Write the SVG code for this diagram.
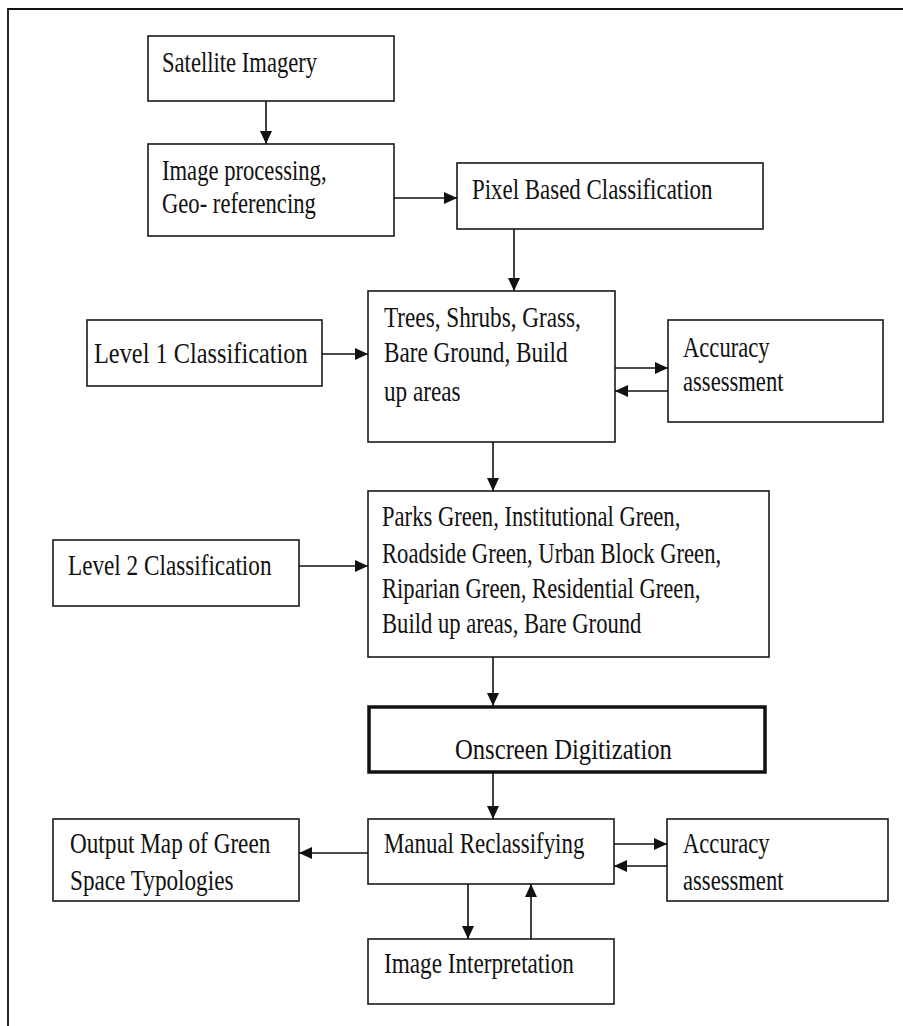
<svg xmlns="http://www.w3.org/2000/svg" width="903" height="1026" viewBox="0 0 903 1026">
<style>
.box{fill:#fff;stroke:#1a1a1a;stroke-width:1.6}
.thick{fill:#fff;stroke:#111;stroke-width:3.5}
.t{font-family:"Liberation Serif","Times New Roman",serif;font-size:29px;fill:#111}
.c{stroke:#111;stroke-width:1.6;fill:none;marker-end:url(#ah)}
.frame{stroke:#111;stroke-width:1.8;fill:none}
</style>
<defs>
<marker id="ah" markerUnits="userSpaceOnUse" markerWidth="14" markerHeight="12" refX="13" refY="6" orient="auto">
<path d="M0,0 L13,6 L0,12 Z" fill="#111"/>
</marker>
</defs>
<rect width="903" height="1026" fill="#fff"/>
<path class="frame" d="M8,1026 V9 H903"/>

<g id="satellite">
<rect class="box" x="148" y="36" width="246" height="65"/>
<text class="t" transform="translate(162,72) scale(0.78,1)">Satellite Imagery</text>
</g>
<g id="image-processing">
<rect class="box" x="148" y="144" width="246" height="92"/>
<text class="t" transform="translate(162,180) scale(0.78,1)"><tspan x="0">Image processing,</tspan><tspan x="0" dy="33">Geo- referencing</tspan></text>
</g>
<g id="pixel">
<rect class="box" x="457" y="163" width="306" height="66"/>
<text class="t" transform="translate(472,199) scale(0.79,1)">Pixel Based Classification</text>
</g>
<g id="level1">
<rect class="box" x="87" y="320" width="235" height="66"/>
<text class="t" transform="translate(94,363) scale(0.84,1)">Level 1 Classification</text>
</g>
<g id="trees">
<rect class="box" x="368" y="291" width="247" height="151"/>
<text class="t" transform="translate(384,327) scale(0.8,1)"><tspan x="0">Trees, Shrubs, Grass,</tspan><tspan x="0" dy="35">Bare Ground, Build</tspan><tspan x="0" dy="39">up areas</tspan></text>
</g>
<g id="accuracy1">
<rect class="box" x="668" y="320" width="215" height="102"/>
<text class="t" transform="translate(683,357) scale(0.78,1)"><tspan x="0">Accuracy</tspan><tspan x="0" dy="34">assessment</tspan></text>
</g>
<g id="level2">
<rect class="box" x="53" y="540" width="246" height="66"/>
<text class="t" transform="translate(68,575) scale(0.8,1)">Level 2 Classification</text>
</g>
<g id="parks">
<rect class="box" x="368" y="491" width="401" height="166"/>
<text class="t" transform="translate(382,526) scale(0.78,1)"><tspan x="0">Parks Green, Institutional Green,</tspan><tspan x="0" dy="37">Roadside Green, Urban Block Green,</tspan><tspan x="0" dy="35">Riparian Green, Residential Green,</tspan><tspan x="0" dy="35">Build up areas, Bare Ground</tspan></text>
</g>
<g id="onscreen">
<rect class="thick" x="369" y="707" width="396" height="65"/>
<text class="t" transform="translate(455,759) scale(0.85,1)">Onscreen Digitization</text>
</g>
<g id="manual">
<rect class="box" x="368" y="819" width="246" height="65"/>
<text class="t" transform="translate(384,853) scale(0.79,1)">Manual Reclassifying</text>
</g>
<g id="output">
<rect class="box" x="53" y="819" width="246" height="82"/>
<text class="t" transform="translate(70,853) scale(0.8,1)"><tspan x="0">Output Map of Green</tspan><tspan x="0" dy="37">Space Typologies</tspan></text>
</g>
<g id="accuracy2">
<rect class="box" x="667" y="819" width="221" height="82"/>
<text class="t" transform="translate(683,853) scale(0.78,1)"><tspan x="0">Accuracy</tspan><tspan x="0" dy="37">assessment</tspan></text>
</g>
<g id="interpretation">
<rect class="box" x="368" y="939" width="246" height="65"/>
<text class="t" transform="translate(384,973) scale(0.8,1)">Image Interpretation</text>
</g>

<g id="connectors">
<path class="c" d="M266,101 V144"/>
<path class="c" d="M394,198 H457"/>
<path class="c" d="M514,229 V291"/>
<path class="c" d="M322,354 H368"/>
<path class="c" d="M615,368 H668"/>
<path class="c" d="M668,391 H615"/>
<path class="c" d="M493,442 V491"/>
<path class="c" d="M299,566 H368"/>
<path class="c" d="M493,657 V706"/>
<path class="c" d="M493,773 V819"/>
<path class="c" d="M368,853 H299"/>
<path class="c" d="M614,844 H667"/>
<path class="c" d="M667,866 H614"/>
<path class="c" d="M468,884 V939"/>
<path class="c" d="M531,939 V884"/>
</g>
</svg>
